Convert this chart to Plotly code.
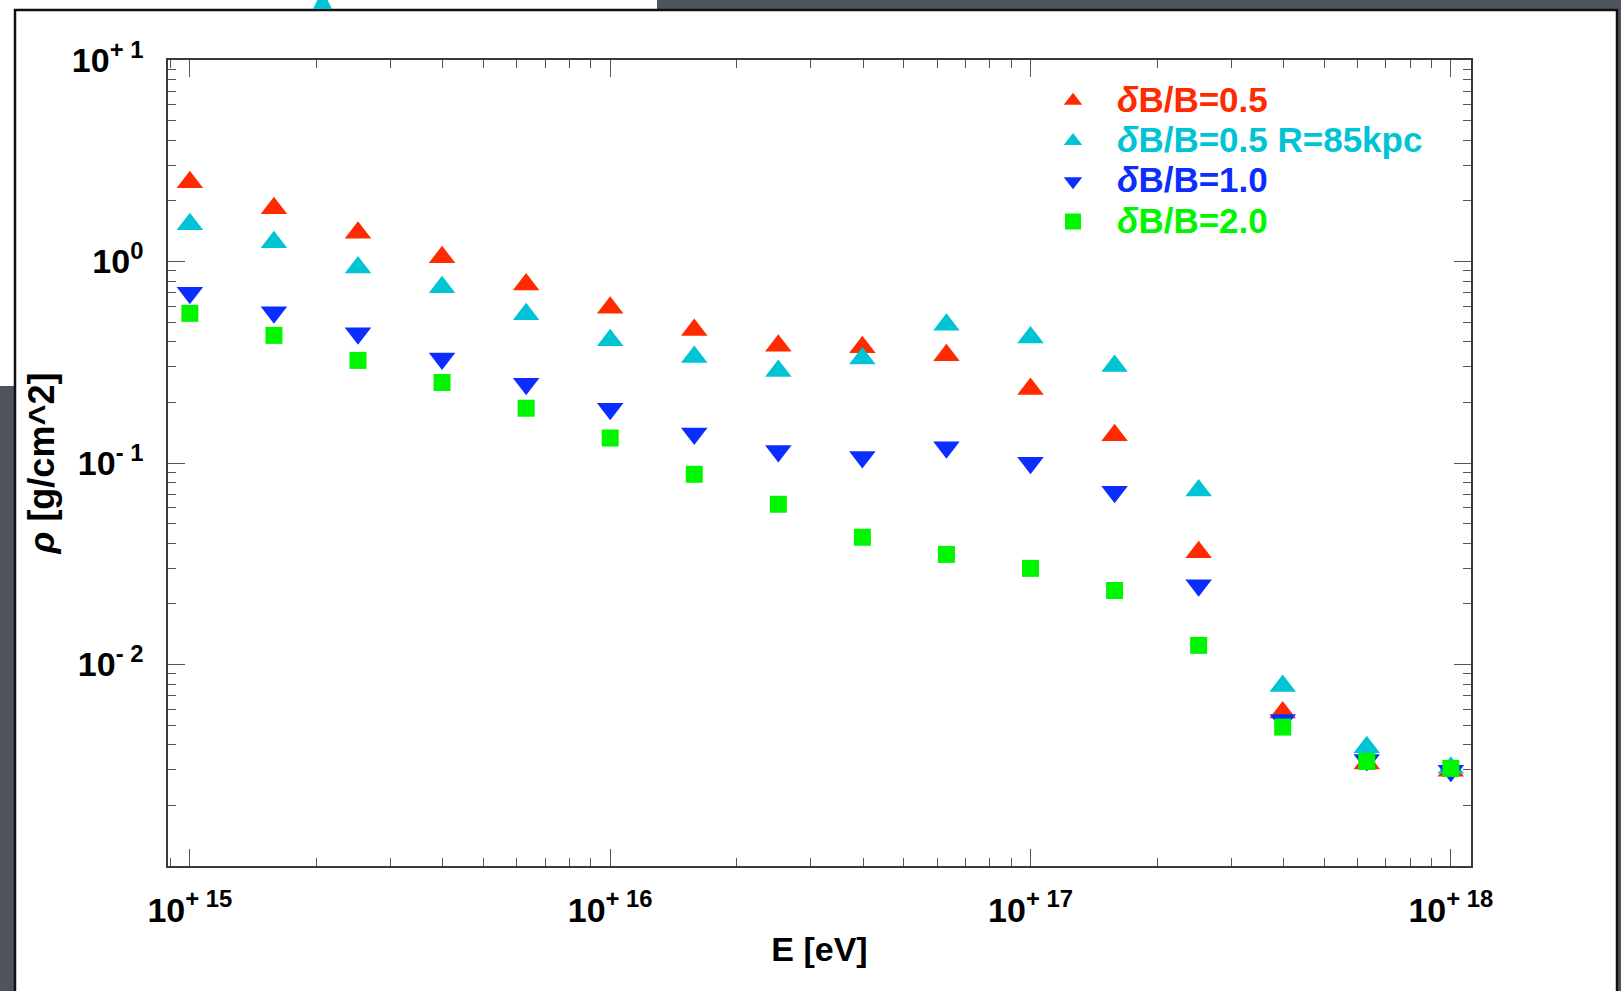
import plotly.graph_objects as go

# ---------------- data ----------------
energy_eV = [1.000e15, 1.585e15, 2.512e15, 3.981e15, 6.310e15,
             1.000e16, 1.585e16, 2.512e16, 3.981e16, 6.310e16,
             1.000e17, 1.585e17, 2.512e17, 3.981e17, 6.310e17, 1.000e18]

rho_dB05 = [2.47, 1.84, 1.39, 1.05, 0.769, 0.589, 0.457, 0.382, 0.375, 0.343,
            0.233, 0.1375, 0.0361, 0.00578, 0.00323, 0.00297]
rho_dB05_R85 = [1.53, 1.245, 0.935, 0.746, 0.548, 0.407, 0.336, 0.286, 0.330, 0.485,
                0.420, 0.303, 0.0731, 0.00783, 0.00389, 0.00307]
rho_dB10 = [0.70, 0.56, 0.44, 0.330, 0.247, 0.186, 0.140, 0.1146, 0.107, 0.1198,
            0.1004, 0.0721, 0.0247, 0.00531, 0.00336, 0.00297]
rho_dB20 = [0.553, 0.430, 0.323, 0.251, 0.187, 0.133, 0.0879, 0.0624, 0.0428, 0.0352,
            0.030, 0.0233, 0.01244, 0.00489, 0.00330, 0.00305]

series_names = ["<i>δ</i>B/B=0.5", "<i>δ</i>B/B=0.5 R=85kpc", "<i>δ</i>B/B=1.0", "<i>δ</i>B/B=2.0"]
series_values = [rho_dB05, rho_dB05_R85, rho_dB10, rho_dB20]
series_colors = ["#ff2a00", "#00c3d3", "#0c2dff", "#00f500"]
series_symbols = ["triangle-up", "triangle-up", "triangle-down", "square"]
series_sizes = [23, 23, 23, 17]

x_tickvals = [1e15, 1e16, 1e17, 1e18]
x_ticktext = ["10<sup>+ 15</sup>", "10<sup>+ 16</sup>", "10<sup>+ 17</sup>", "10<sup>+ 18</sup>"]
y_tickvals = [1e-2, 1e-1, 1e0, 1e1]
y_ticktext = ["10<sup>- 2</sup>", "10<sup>- 1</sup>", "10<sup>0</sup>", "10<sup>+ 1</sup>"]

x_minor = [m * 10 ** e for e in range(14, 18) for m in range(2, 10)]
y_minor = [m * 10 ** e for e in range(-3, 1) for m in range(2, 10)]

# ---------------- geometry ----------------
W, H = 1621, 991
L, R, T, B = 168, 1471, 60, 866   # plot area in pixels
FONT = "Liberation Sans, Arial, Helvetica, sans-serif"
BG_DARK = "#4f535d"


def px(xp):
    return (xp - L) / (R - L)


def py(yp):
    return (B - yp) / (B - T)


fig = go.Figure()
for name, vals, col, sym, sz in zip(series_names, series_values, series_colors,
                                    series_symbols, series_sizes):
    fig.add_trace(go.Scatter(
        x=energy_eV, y=vals, mode="markers",
        name=f"<span style='color:{col};font-size:35px'>{name}</span>",
        marker=dict(symbol=sym, size=sz, color=col, line=dict(width=0)),
    ))

axis_common = dict(
    type="log", showgrid=False, zeroline=False,
    showline=True, linecolor="#3a3a3a", linewidth=1.5, mirror="ticks",
    ticks="inside", ticklen=17, tickwidth=1.3, tickcolor="#555555",
    tickfont=dict(family=FONT, size=34, color="black", weight="bold"),
)

fig.update_xaxes(
    **axis_common,
    range=[14.948, 18.048],
    tickmode="array", tickvals=x_tickvals, ticktext=x_ticktext,
    ticklabelstandoff=13,
    minor=dict(tickmode="array", tickvals=x_minor, ticks="inside", ticklen=8,
               tickwidth=1.3, tickcolor="#555555", showgrid=False),
    title=dict(text="E [eV]", standoff=10,
               font=dict(family=FONT, size=34, color="black", weight="bold")),
)
fig.update_yaxes(
    **axis_common,
    range=[-3, 1],
    tickmode="array", tickvals=y_tickvals, ticktext=y_ticktext,
    ticklabelstandoff=16,
    minor=dict(tickmode="array", tickvals=y_minor, ticks="inside", ticklen=8,
               tickwidth=1.3, tickcolor="#555555", showgrid=False),
    title=dict(text="<i>ρ</i> [g/cm^2]", standoff=6,
               font=dict(family=FONT, size=36, color="black", weight="bold")),
)

shapes = [
    # white fragments of the slide behind
    dict(type="rect", xref="paper", yref="paper", x0=px(-5), x1=px(657), y0=py(10), y1=py(-5),
         fillcolor="white", line=dict(width=0), layer="below"),
    dict(type="rect", xref="paper", yref="paper", x0=px(-5), x1=px(15), y0=py(386), y1=py(-5),
         fillcolor="white", line=dict(width=0), layer="below"),
    # main white panel
    dict(type="rect", xref="paper", yref="paper", x0=px(15), x1=px(1617), y0=py(1000), y1=py(10),
         fillcolor="white", line=dict(color="#111111", width=2.5), layer="below"),
    # cut-off cyan marker of the slide behind
    dict(type="path", xref="paper", yref="paper",
         path=f"M {px(313)} {py(9)} L {px(332)} {py(9)} L {px(327)} {py(-1)} L {px(318)} {py(-1)} Z",
         fillcolor="#00c3d3", line=dict(width=0), layer="below"),
]

fig.update_layout(
    width=W, height=H,
    margin=dict(l=L, r=W - R, t=T, b=H - B, autoexpand=False),
    paper_bgcolor=BG_DARK, plot_bgcolor="white",
    font=dict(family=FONT, size=34, color="black", weight="bold"),
    shapes=shapes,
    showlegend=True,
    legend=dict(
        x=px(1029), xanchor="left", y=py(75.5), yanchor="top",
        bgcolor="rgba(0,0,0,0)", borderwidth=0,
        font=dict(family=FONT, size=28.7, weight="bold"),
        itemwidth=78, tracegroupgap=0,
    ),
)

fig.write_html("out.html", config={"displayModeBar": False},
               post_script="document.body.style.margin='0';document.body.style.padding='0';")
